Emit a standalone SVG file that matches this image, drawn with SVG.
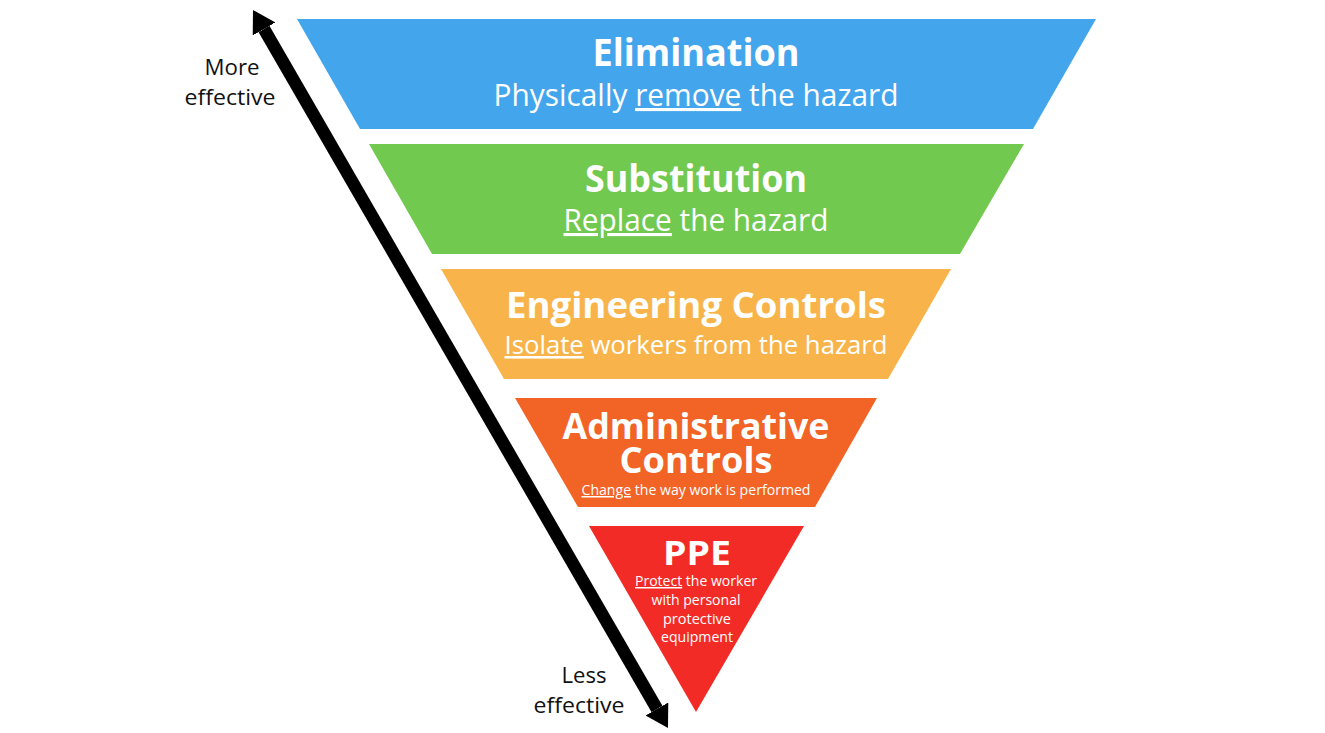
<svg xmlns="http://www.w3.org/2000/svg" width="1325" height="733" viewBox="0 0 1325 733">
  <style>
    .t { font-family: "Open Sans", "Noto Sans", sans-serif; fill: #ffffff; text-anchor: middle; }
    .h { font-weight: 700; }
    .u { text-decoration: underline; }
    .lbl { font-family: "Open Sans", "Noto Sans", sans-serif; fill: #111111; text-anchor: middle; font-size: 22px; }
  </style>
  <defs>
    <marker id="head" markerUnits="userSpaceOnUse" markerWidth="22" markerHeight="26" refX="0" refY="13" orient="auto-start-reverse" viewBox="0 0 22 26">
      <path d="M0,0 L22,13 L0,26 z" fill="#000000"/>
    </marker>
  </defs>
  <rect width="1325" height="733" fill="#ffffff"/>

  <g id="connectors">
    <line x1="264" y1="29" x2="657" y2="709" stroke="#000000" stroke-width="12.5" marker-start="url(#head)" marker-end="url(#head)"/>
  </g>

  <g id="elimination">
    <polygon points="297,19 1096,19 1033,129 360,129" fill="#43A5EC"/>
    <text class="t h" x="696" y="66" font-size="38" textLength="207" lengthAdjust="spacingAndGlyphs">Elimination</text>
    <text class="t" x="696" y="106" font-size="31" textLength="405" lengthAdjust="spacingAndGlyphs">Physically <tspan class="u">remove</tspan> the hazard</text>
  </g>

  <g id="substitution">
    <polygon points="369,144 1024,144 960,254 432,254" fill="#72C94F"/>
    <text class="t h" x="696" y="192" font-size="38" textLength="222" lengthAdjust="spacingAndGlyphs">Substitution</text>
    <text class="t" x="696" y="231" font-size="31" textLength="265" lengthAdjust="spacingAndGlyphs"><tspan class="u">Replace</tspan> the hazard</text>
  </g>

  <g id="engineering">
    <polygon points="441,269 951,269 888,379 504,379" fill="#F8B44A"/>
    <text class="t h" x="696" y="318" font-size="36" textLength="380" lengthAdjust="spacingAndGlyphs">Engineering Controls</text>
    <text class="t" x="696" y="354" font-size="26" textLength="383" lengthAdjust="spacingAndGlyphs"><tspan class="u">Isolate</tspan> workers from the hazard</text>
  </g>

  <g id="administrative">
    <polygon points="515,398 877,398 815,507 578,507" fill="#F26326"/>
    <text class="t h" x="696" y="439" font-size="35" textLength="267" lengthAdjust="spacingAndGlyphs">Administrative</text>
    <text class="t h" x="696" y="473" font-size="35" textLength="153" lengthAdjust="spacingAndGlyphs">Controls</text>
    <text class="t" x="696" y="495" font-size="15" textLength="229" lengthAdjust="spacingAndGlyphs"><tspan class="u">Change</tspan> the way work is performed</text>
  </g>

  <g id="ppe">
    <polygon points="589,526 804,526 696,712" fill="#F22B26"/>
    <text class="t h" x="697" y="565" font-size="34" textLength="68" lengthAdjust="spacingAndGlyphs">PPE</text>
    <text class="t" x="696" y="586" font-size="15" textLength="122" lengthAdjust="spacingAndGlyphs"><tspan class="u">Protect</tspan> the worker</text>
    <text class="t" x="696" y="605" font-size="15" textLength="89" lengthAdjust="spacingAndGlyphs">with personal</text>
    <text class="t" x="697" y="624" font-size="15" textLength="68" lengthAdjust="spacingAndGlyphs">protective</text>
    <text class="t" x="697" y="642" font-size="15" textLength="72" lengthAdjust="spacingAndGlyphs">equipment</text>
  </g>

  <g id="more-effective">
    <text class="lbl" x="232" y="75" textLength="55" lengthAdjust="spacingAndGlyphs">More</text>
    <text class="lbl" x="230" y="105" textLength="91" lengthAdjust="spacingAndGlyphs">effective</text>
  </g>

  <g id="less-effective">
    <text class="lbl" x="584" y="683" textLength="45" lengthAdjust="spacingAndGlyphs">Less</text>
    <text class="lbl" x="579" y="713" textLength="91" lengthAdjust="spacingAndGlyphs">effective</text>
  </g>
</svg>
